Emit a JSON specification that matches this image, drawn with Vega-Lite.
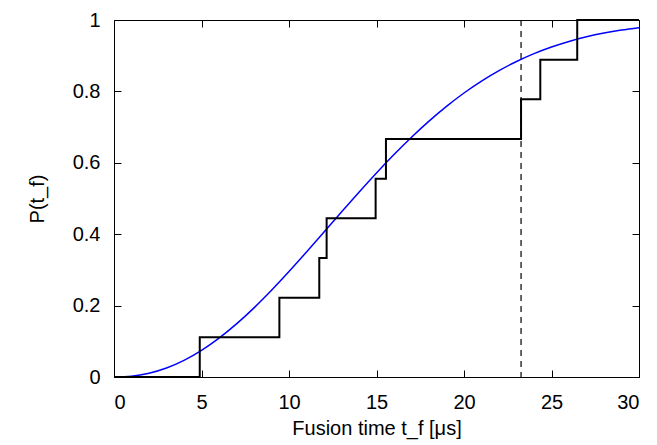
{
  "$schema": "https://vega.github.io/schema/vega-lite/v6.json",
  "width": 525,
  "height": 357,
  "autosize": "none",
  "padding": {"left": 114, "top": 20, "right": 18, "bottom": 68},
  "background": "white",
  "config": {
    "view": {"stroke": "black", "strokeWidth": 1},
    "font": "Liberation Sans",
    "axis": {
      "grid": false,
      "domain": false,
      "tickColor": "black",
      "tickSize": -7,
      "tickWidth": 1,
      "labelFontSize": 20,
      "labelColor": "black",
      "titleFontSize": 20,
      "titleFontWeight": "normal",
      "titleColor": "black"
    }
  },
  "datasets": {
    "steps": [
      {"t": 0, "p": 0},
      {"t": 4.9, "p": 0.1111},
      {"t": 9.45, "p": 0.2222},
      {"t": 11.73, "p": 0.3333},
      {"t": 12.15, "p": 0.4444},
      {"t": 14.95, "p": 0.5556},
      {"t": 15.54, "p": 0.6667},
      {"t": 23.26, "p": 0.7778},
      {"t": 24.36, "p": 0.8889},
      {"t": 26.47, "p": 1.0},
      {"t": 30, "p": 1.0}
    ],
    "fit": [
      {"t": 0, "p": 0},
      {"t": 1, "p": 0.00231},
      {"t": 2, "p": 0.01043},
      {"t": 3, "p": 0.02506},
      {"t": 4, "p": 0.04641},
      {"t": 5, "p": 0.07438},
      {"t": 6, "p": 0.10866},
      {"t": 7, "p": 0.14867},
      {"t": 8, "p": 0.19371},
      {"t": 9, "p": 0.24303},
      {"t": 10, "p": 0.29551},
      {"t": 11, "p": 0.35021},
      {"t": 12, "p": 0.40621},
      {"t": 13, "p": 0.46238},
      {"t": 14, "p": 0.51784},
      {"t": 15, "p": 0.57166},
      {"t": 16, "p": 0.62312},
      {"t": 17, "p": 0.67165},
      {"t": 18, "p": 0.71681},
      {"t": 19, "p": 0.75813},
      {"t": 20, "p": 0.79549},
      {"t": 21, "p": 0.82887},
      {"t": 22, "p": 0.85823},
      {"t": 23, "p": 0.88378},
      {"t": 24, "p": 0.90581},
      {"t": 25, "p": 0.92438},
      {"t": 26, "p": 0.93995},
      {"t": 27, "p": 0.95279},
      {"t": 28, "p": 0.9633},
      {"t": 29, "p": 0.97178},
      {"t": 30, "p": 0.97854}
    ],
    "marker": [{"t": 23.26}]
  },
  "layer": [
    {
      "data": {"name": "marker"},
      "mark": {"type": "rule", "color": "black", "strokeWidth": 1.2, "strokeDash": [6, 5]},
      "encoding": {
        "x": {"field": "t", "type": "quantitative", "scale": {"domain": [0, 30]},
              "axis": {"orient": "top", "labels": false, "title": null, "values": [0, 5, 10, 15, 20, 25, 30]}}
      }
    },
    {
      "data": {"name": "fit"},
      "mark": {"type": "line", "color": "#0000ff", "strokeWidth": 1.5, "interpolate": "monotone", "clip": true},
      "encoding": {
        "x": {"field": "t", "type": "quantitative", "scale": {"domain": [0, 30]}, "axis": null},
        "y": {"field": "p", "type": "quantitative", "scale": {"domain": [0, 1]},
              "axis": {"orient": "right", "labels": false, "title": null, "values": [0, 0.2, 0.4, 0.6, 0.8, 1]}}
      }
    },
    {
      "data": {"name": "steps"},
      "mark": {"type": "line", "color": "black", "strokeWidth": 2, "interpolate": "step-after", "clip": false},
      "encoding": {
        "x": {"field": "t", "type": "quantitative", "scale": {"domain": [0, 30]},
              "axis": {"orient": "bottom", "title": "Fusion time t_f [μs]", "values": [0, 5, 10, 15, 20, 25, 30], "labelPadding": 22, "titlePadding": 6}},
        "y": {"field": "p", "type": "quantitative", "scale": {"domain": [0, 1]},
              "axis": {"orient": "left", "title": "P(t_f)", "format": "~g", "values": [0, 0.2, 0.4, 0.6, 0.8, 1], "labelPadding": 21, "titlePadding": 25}}
      }
    }
  ],
  "resolve": {"axis": {"x": "independent", "y": "independent"}}
}
